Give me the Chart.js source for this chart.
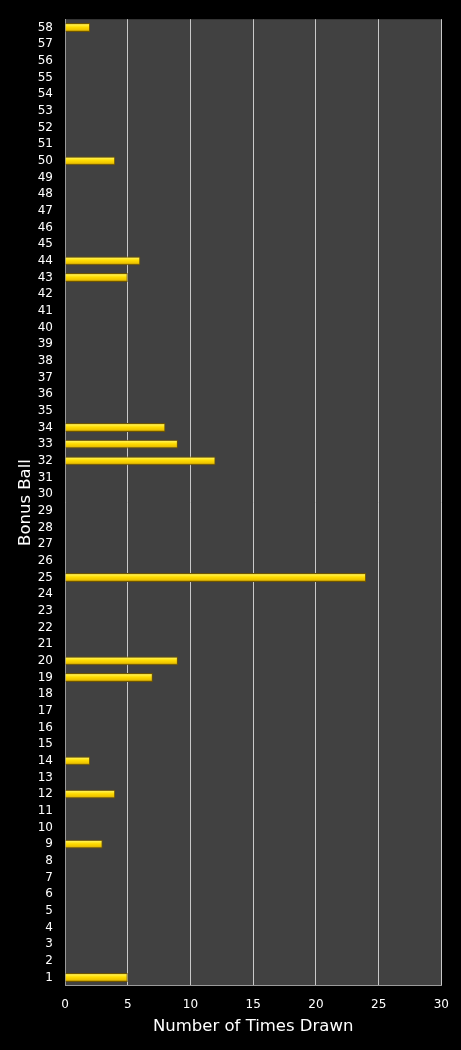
<!DOCTYPE html>
<html>
<head>
<meta charset="utf-8">
<script src="https://cdn.jsdelivr.net/npm/chart.js@4/dist/chart.umd.min.js"></script>
<style>
html,body{margin:0;padding:0;background:#000;}
#wrap{position:relative;width:461px;height:1050px;}
</style>
</head>
<body>
<div id="wrap"><canvas id="c" width="461" height="1050"></canvas></div>
<script>
// Categories: bonus ball numbers 1..58
const balls = [];
for (let i = 1; i <= 58; i++) balls.push(String(i));
// Drawn counts (only non-zero balls)
const drawnBalls = ['1','9','12','14','19','20','25','32','33','34','43','44','50','58'];
const drawnCounts = [5, 3, 4, 2, 7, 9, 24, 12, 9, 8, 5, 6, 4, 2];
const xTicks = [0, 5, 10, 15, 20, 25, 30];

const values = balls.map(b => {
  const k = drawnBalls.indexOf(b);
  return k >= 0 ? drawnCounts[k] : 0;
});

const FONT = "'DejaVu Sans', Verdana, sans-serif";

const plotBg = {
  id: 'plotBg',
  beforeDraw(chart) {
    const {ctx, chartArea: a} = chart;
    ctx.save();
    ctx.fillStyle = '#000';
    ctx.fillRect(0, 0, chart.width, chart.height);
    ctx.fillStyle = '#414141';
    ctx.fillRect(a.left, a.top, a.right - a.left, a.bottom - a.top);
    ctx.restore();
  }
};

function barFill(context) {
  const chart = context.chart;
  const ys = chart.scales.y;
  if (!ys || ys.height === undefined) return '#f5d000';
  const yc = ys.getPixelForValue(context.dataIndex);
  const h = 9;
  const g = chart.ctx.createLinearGradient(0, yc - h / 2, 0, yc + h / 2);
  g.addColorStop(0, '#b08c00');
  g.addColorStop(0.2, '#fff04a');
  g.addColorStop(0.45, '#ffdc00');
  g.addColorStop(0.75, '#eec400');
  g.addColorStop(1, '#8a6a00');
  return g;
}

new Chart(document.getElementById('c'), {
  type: 'bar',
  data: {
    labels: balls,
    datasets: [{
      data: values,
      backgroundColor: barFill,
      borderColor: '#6e5400',
      borderWidth: 1,
      borderSkipped: 'start',
      barPercentage: 0.53,
      categoryPercentage: 1.0
    }]
  },
  options: {
    indexAxis: 'y',
    responsive: false,
    animation: false,
    devicePixelRatio: 1,
    layout: { padding: { top: 15, right: 19, left: 0, bottom: 0 } },
    plugins: { legend: { display: false }, tooltip: { enabled: false } },
    scales: {
      x: {
        min: 0, max: 30,
        afterBuildTicks(scale) { scale.ticks = xTicks.map(v => ({ value: v })); },
        grid: { color: '#c8c8c8', lineWidth: 1, drawTicks: false },
        border: { display: true, color: '#9a9a9a', width: 1 },
        ticks: { color: '#ffffff', font: { family: FONT, size: 12 }, padding: 12 },
        title: { display: true, text: 'Number of Times Drawn', color: '#ffffff',
                 font: { family: FONT, size: 16.5 }, padding: { top: -7, bottom: 13 } }
      },
      y: {
        reverse: true,
        afterFit(scale) { scale.width = 65; },
        grid: { display: false, drawTicks: false },
        border: { display: true, color: '#9a9a9a', width: 1 },
        ticks: { color: '#ffffff', font: { family: FONT, size: 12 }, padding: 12, autoSkip: false },
        title: { display: true, text: 'Bonus Ball', color: '#ffffff',
                 font: { family: FONT, size: 16.5 }, padding: { top: 16, bottom: 0 } }
      }
    }
  },
  plugins: [plotBg]
});
</script>
</body>
</html>
